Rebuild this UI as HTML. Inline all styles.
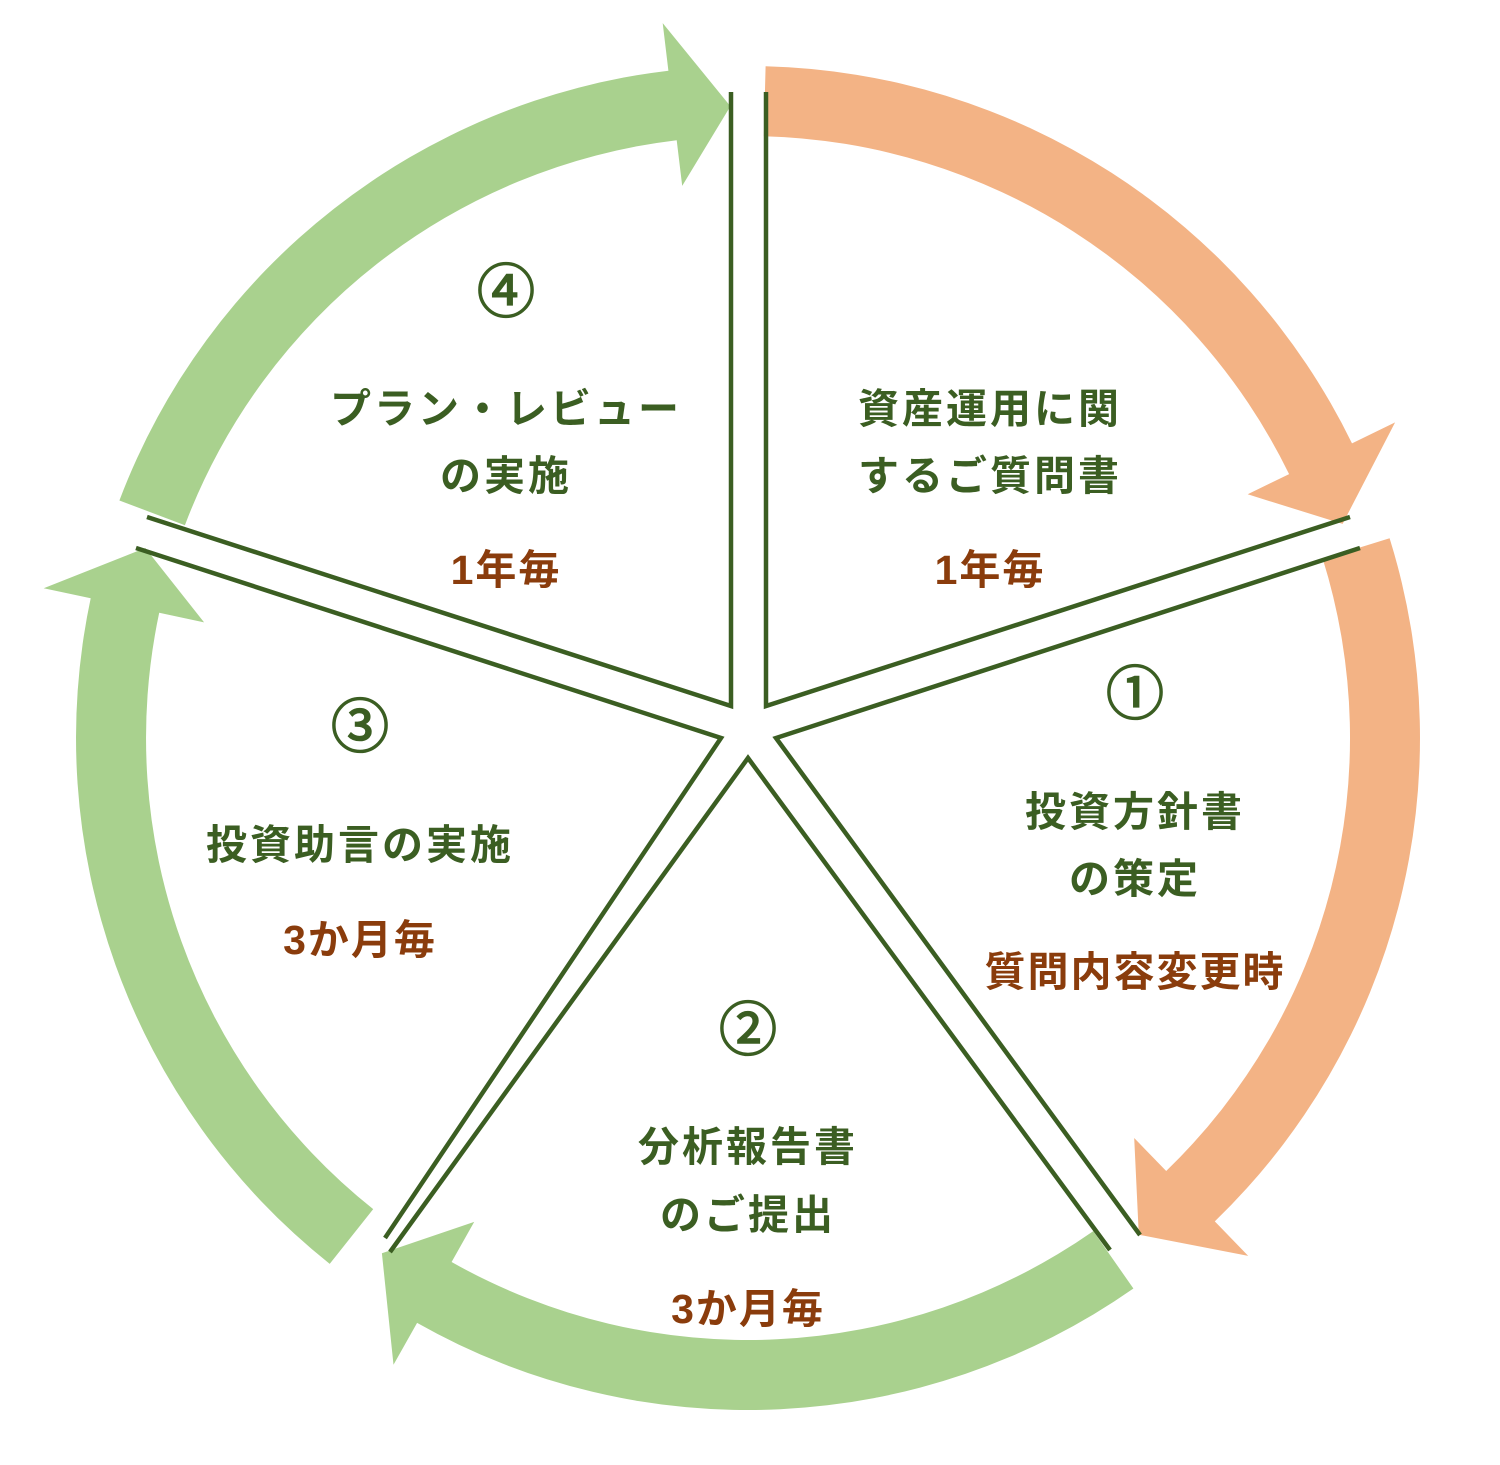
<!DOCTYPE html>
<html><head><meta charset="utf-8"><style>
html,body{margin:0;padding:0;background:#fff;}
svg{display:block}
text{font-family:"Liberation Sans","Noto Sans CJK JP",sans-serif;font-weight:bold;text-anchor:middle;}
.g{fill:#3b5e22;font-size:41px;letter-spacing:3px}
.b{fill:#8a3c0c;font-size:41px;letter-spacing:2px}
.n{fill:#3b5e22;stroke:#3b5e22;stroke-width:1.6;font-size:58px;font-weight:normal}
</style></head><body>
<svg id="s" width="1500" height="1465" viewBox="0 0 1500 1465" xmlns="http://www.w3.org/2000/svg">
<g id="arrows"></g>
<g fill="none" stroke="#3b5e22" stroke-width="4.5">
<polyline points="766,92 766,706 1350,517"/>
<polyline points="731,92 731,706 147,517"/>
<polyline points="136,548 721,738 385,1238"/>
<polyline points="390,1252 748,758 1110,1250"/>
<polyline points="1360,548 776,738 1140,1235"/>
</g>
<text class="g" x="990" y="423">資産運用に関</text>
<text class="g" x="990" y="490">するご質問書</text>
<text class="b" x="990" y="584">1年毎</text>
<text class="n" x="506" y="312">④</text>
<text class="g" x="506" y="423">プラン・レビュー</text>
<text class="g" x="506" y="490">の実施</text>
<text class="b" x="506" y="584">1年毎</text>
<text class="n" x="1135" y="714">①</text>
<text class="g" x="1135" y="826">投資方針書</text>
<text class="g" x="1135" y="893">の策定</text>
<text class="b" x="1135" y="986">質問内容変更時</text>
<text class="n" x="360" y="747">③</text>
<text class="g" x="360" y="859">投資助言の実施</text>
<text class="b" x="360" y="954">3か月毎</text>
<text class="n" x="748" y="1050">②</text>
<text class="g" x="748" y="1161">分析報告書</text>
<text class="g" x="748" y="1229">のご提出</text>
<text class="b" x="748" y="1323">3か月毎</text>
</svg>
<script>
var cx=748,cy=738,Ro=672,Ri=602,Ho=720,Hi=556,Rt=632;
function P(r,a){a=a*Math.PI/180;return (cx+r*Math.cos(a)).toFixed(1)+","+(cy+r*Math.sin(a)).toFixed(1);}
function arrow(s,b,t,col){
 var large=(b-s)>180?1:0;
 return '<path fill="'+col+'" d="M'+P(Ro,s)+' A'+Ro+','+Ro+' 0 '+large+' 1 '+P(Ro,b)+' L'+P(Ho,b)+' L'+P(Rt,t)+' L'+P(Hi,b)+' L'+P(Ri,b)+' A'+Ri+','+Ri+' 0 '+large+' 0 '+P(Ri,s)+' Z"/>';
}
var o="#f3b385",g="#a9d18e",h="";
h+=arrow(-88.5,-26,-19.8,o);
h+=arrow(-17.3,46,51.8,o);
h+=arrow(55,119.5,125.4,g);
h+=arrow(128.5,192,197.5,g);
h+=arrow(200.7,263.2,268.4,g);
document.getElementById("arrows").innerHTML=h;
</script>
</body></html>
